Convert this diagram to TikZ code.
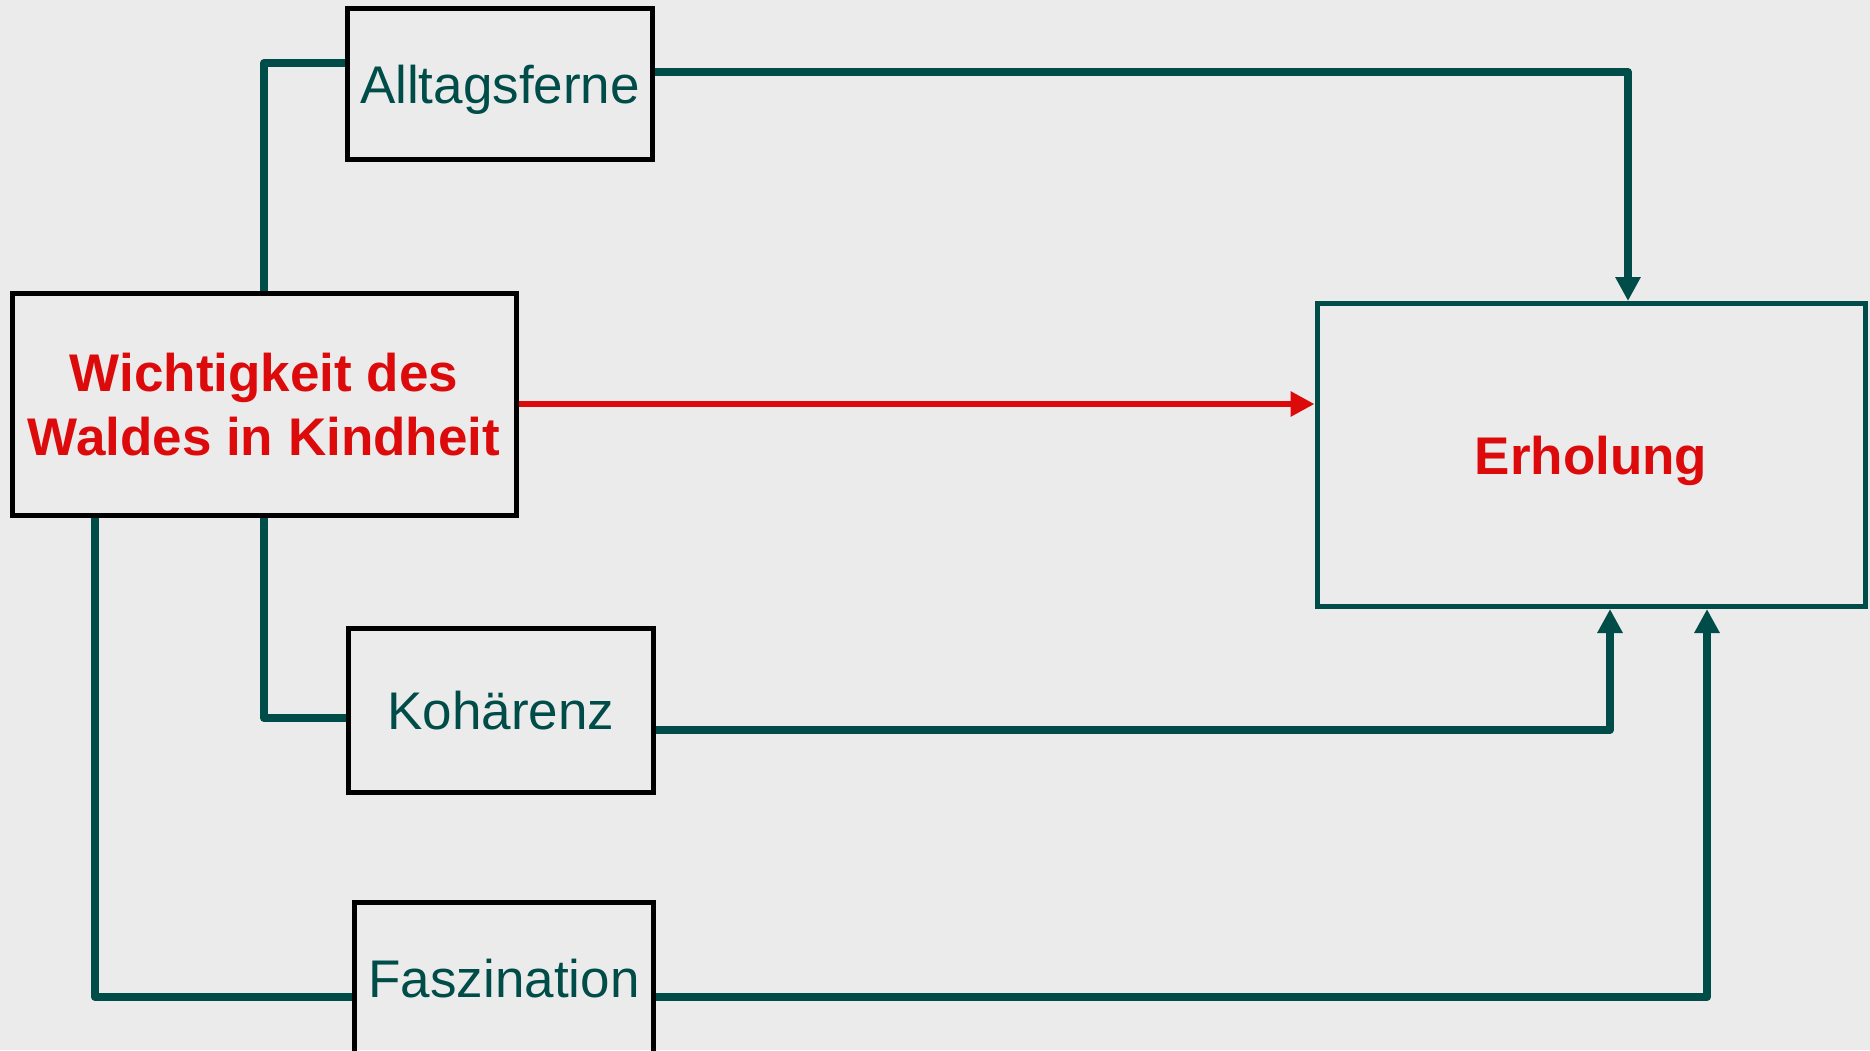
\documentclass[tikz,border=0pt]{standalone}
\usepackage{fontspec}
\setmainfont{Liberation Sans}
\usetikzlibrary{arrows.meta}
\definecolor{waldgruen}{HTML}{004C48}
\definecolor{waldrot}{HTML}{DC0A0A}
\definecolor{hinter}{HTML}{EBEBEB}
\begin{document}
\begin{tikzpicture}[x=1pt,y=-1pt,
  kasten/.style={draw=black, line width=5pt, inner sep=0pt, text=waldgruen,
    font=\fontsize{53}{64}\selectfont, text height=38pt, text depth=0pt},
  haupt/.style={kasten, text=waldrot, font=\fontsize{53}{64}\selectfont\bfseries},
  pfad/.style={draw=waldgruen, line width=8pt, line join=round},
  pfeil/.style={pfad, -{Triangle[length=24pt,width=24pt]}}]
\useasboundingbox (0,0) rectangle (1870,1050);
\fill[hinter] (0,0) rectangle (1870,1050);
\node[kasten, minimum width=305pt, minimum height=151pt] (alt) at (500,84){Alltagsferne};
\node[haupt, align=center, text height=, minimum width=504pt, minimum height=222pt] (wk) at (264,404){Wichtigkeit des\\Waldes in Kindheit};
\node[kasten, minimum width=305pt, minimum height=164pt] (koh) at (501,710){Kohärenz};
\node[kasten, minimum width=299pt, minimum height=152pt] (fas) at (504,978){Faszination};
\node[haupt, draw=waldgruen, minimum width=548pt, minimum height=303pt] (erh) at (1591,455){Erholung};
\draw[pfad] (wk.north) |- ([yshift=21pt]alt.west);
\draw[pfeil] ([yshift=12pt]alt.east) -| ([xshift=37pt]erh.north);
\draw[pfad, draw=waldrot, line width=6.5pt, -{Triangle[length=24pt,width=24pt]}] (wk.east) -- (wk.east -| erh.west);
\draw[pfad] (wk.south) |- ([yshift=-8pt]koh.west);
\draw[pfeil] ([yshift=-20pt]koh.east) -| ([xshift=19pt]erh.south);
\draw[pfad] ([xshift=-169pt]wk.south) |- ([yshift=-19pt]fas.west);
\draw[pfeil] ([yshift=-19pt]fas.east) -| ([xshift=116pt]erh.south);
\end{tikzpicture}
\end{document}
